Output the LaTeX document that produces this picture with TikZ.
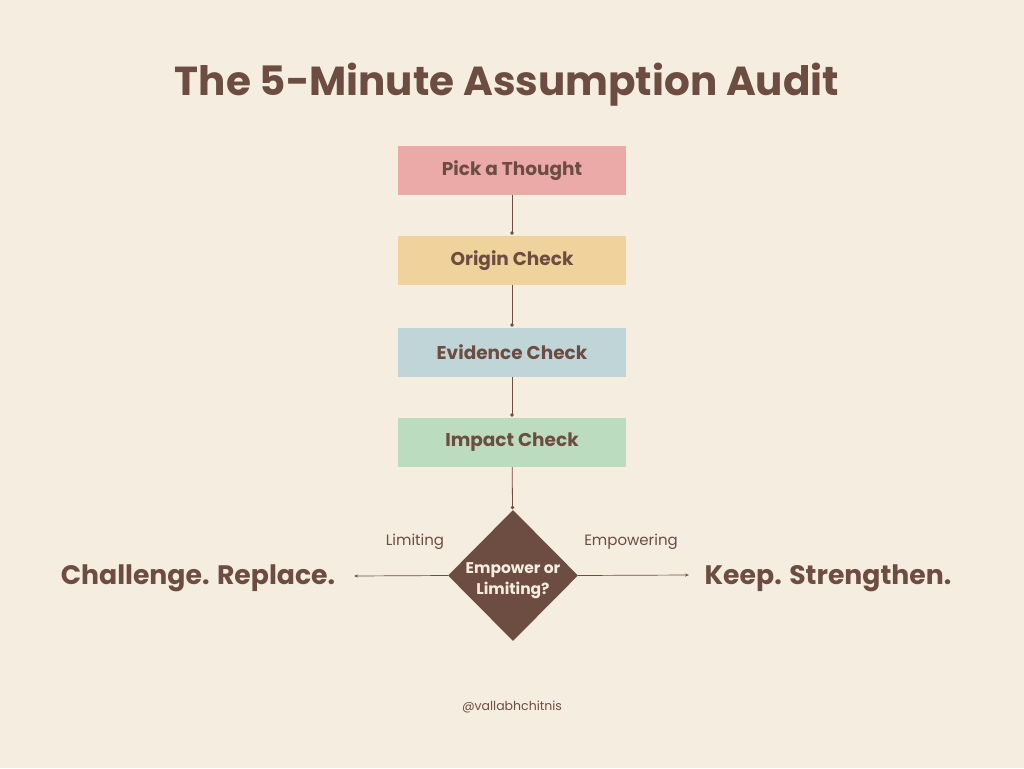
\documentclass[tikz,border=0pt]{standalone}
\usepackage{fontspec}
\setmainfont{Poppins}
\usetikzlibrary{shapes.geometric,arrows.meta}
\definecolor{bg}{HTML}{F5EDE0}
\definecolor{br}{HTML}{6D4C42}
\definecolor{cpink}{HTML}{EBAAA8}
\definecolor{cyel}{HTML}{F0D29C}
\definecolor{cblue}{HTML}{C0D5D8}
\definecolor{cgreen}{HTML}{BCDCC0}
\tikzset{
 stepbox/.style={minimum width=228pt,minimum height=49pt,inner sep=0pt,font=\fontsize{18.5}{22}\selectfont\bfseries,text=br},
 conn/.style={draw=br,line width=0.8pt,-{Circle[length=3.5pt]},shorten >=1pt},
 side/.style={draw=br,line width=0.7pt,-{Stealth[length=4pt,width=3pt]}},
}
\begin{document}
\begin{tikzpicture}[x=1pt,y=-1pt]
\fill[bg] (0,0) rectangle (1024,768);
\useasboundingbox (0,0) rectangle (1024,768);
\node[text=br,font=\fontsize{40.5}{46}\selectfont\bfseries] (title) at (507,85) {The 5-Minute Assumption Audit};
\node[stepbox,fill=cpink] (b1) at (512,170.5) {\raisebox{-3.5pt}{Pick a Thought}};
\node[stepbox,fill=cyel] (b2) at (512,260.5) {\raisebox{-3.5pt}{Origin Check}};
\node[stepbox,fill=cblue] (b3) at (512,352.5) {\raisebox{-3.5pt}{Evidence Check}};
\node[stepbox,fill=cgreen] (b4) at (512,442.5) {\raisebox{-3.5pt}{Impact Check}};
\node[diamond,fill=br,minimum width=130pt,minimum height=131pt,inner sep=0pt,text=bg,align=center,font=\fontsize{15.5}{21}\selectfont\bfseries] (d) at (513,575.5) {};
\node[text=bg,align=center,font=\fontsize{15.5}{21}\selectfont\bfseries] (dt) at (513,580.5) {Empower or\\Limiting?};
\draw[conn] (b1) -- (b2);
\draw[conn] (b2) -- (b3);
\draw[conn] (b3) -- (b4);
\draw[conn] (b4) -- (d);
\coordinate (le) at (354,576);
\coordinate (re) at (689,575);
\draw[side] (d.west) -- (le);
\draw[side] (d.east) -- (re);
\node[text=br,font=\fontsize{15}{18}\selectfont] (lim) at (415,542) {Limiting};
\node[text=br,font=\fontsize{15}{18}\selectfont] (emp) at (631,542) {Empowering};
\node[text=br,font=\fontsize{26.7}{32}\selectfont\bfseries] (ch) at (198,578) {Challenge. Replace.};
\node[text=br,font=\fontsize{26.7}{32}\selectfont\bfseries] (ks) at (828,578) {Keep. Strengthen.};
\node[text=br,font=\fontsize{12.5}{15}\selectfont] (ft) at (512,707) {@vallabhchitnis};
\end{tikzpicture}
\end{document}
